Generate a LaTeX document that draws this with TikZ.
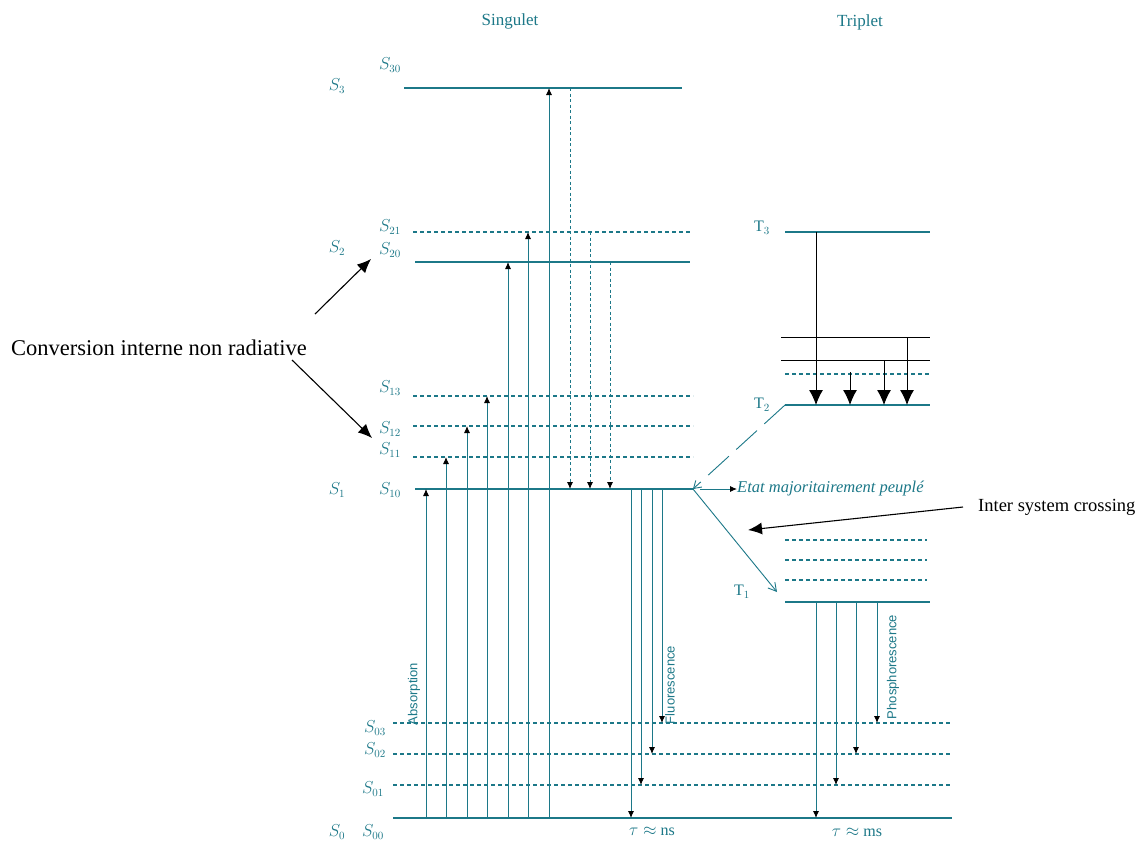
\documentclass[tikz,border=0pt]{standalone}
\usepackage{fontspec}
\setmainfont{Liberation Serif}
\newfontfamily\sansf{Liberation Sans}
\usetikzlibrary{arrows.meta}
\definecolor{tealc}{RGB}{28,120,136}
\begin{document}
\begin{tikzpicture}[x=1pt,y=-1pt,
  lvl/.style={tealc, line width=1.2pt},
  dlvl/.style={tealc, line width=1.2pt, dash pattern=on 4pt off 3pt},
  blvl/.style={black, line width=0.9pt},
  up/.style={tealc, line width=0.9pt, -{Latex[length=7pt,width=6pt,color=black]}},
  dn/.style={tealc, line width=0.9pt, dash pattern=on 3pt off 2.5pt, -{Latex[length=7pt,width=6pt,color=black]}},
  bigarr/.style={black, line width=0.9pt, -{Latex[length=15pt,width=14pt]}},
  callout/.style={black, line width=1.1pt, -{Latex[length=14pt,width=12pt]}},
  slab/.style={tealc, font=\fontsize{16}{16}\selectfont, inner sep=0pt},
  tlab/.style={tealc, font=\fontsize{16}{16}\selectfont, inner sep=0pt},
  rot/.style={tealc, rotate=90, font=\sansf\fontsize{13}{13}\selectfont, inner sep=0pt},
  head/.style={tealc, font=\fontsize{17}{17}\selectfont, inner sep=0pt}]
\useasboundingbox (0,0) rectangle (1145,846);
\fill[white] (0,0) rectangle (1145,846);

% headings
\node[head] (sing) at (510,21) {Singulet};
\node[head] (trip) at (860,22) {Triplet};

% singlet levels
\draw[lvl]  (404,88)  coordinate (s3a) -- (682,88) coordinate (s3b);
\draw[dlvl] (413,232) coordinate (s21a) -- (690,232) coordinate (s21b);
\draw[lvl]  (415,262) coordinate (s20a) -- (690,262) coordinate (s20b);
\draw[dlvl] (413,396) coordinate (s13a) -- (693,396) coordinate (s13b);
\draw[dlvl] (413,426) coordinate (s12a) -- (693,426) coordinate (s12b);
\draw[dlvl] (413,457) coordinate (s11a) -- (693,457) coordinate (s11b);
\draw[lvl]  (415,489) coordinate (s10a) -- (693,489) coordinate (s10b);
\draw[dlvl] (393,723) coordinate (s03a) -- (952,723) coordinate (s03b);
\draw[dlvl] (393,754) coordinate (s02a) -- (952,754) coordinate (s02b);
\draw[dlvl] (393,785) coordinate (s01a) -- (952,785) coordinate (s01b);
\draw[lvl]  (393,818) coordinate (s00a) -- (952,818) coordinate (s00b);

% singlet labels
\node[slab] (lS30) at (390,65) {$S_{30}$};
\node[slab] (lS3)  at (337,86) {$S_{3}$};
\node[slab] (lS21) at (390,227) {$S_{21}$};
\node[slab] (lS20) at (390,250) {$S_{20}$};
\node[slab] (lS2)  at (337,248) {$S_{2}$};
\node[slab] (lS13) at (390,388) {$S_{13}$};
\node[slab] (lS12) at (390,429) {$S_{12}$};
\node[slab] (lS11) at (390,450) {$S_{11}$};
\node[slab] (lS10) at (390,490) {$S_{10}$};
\node[slab] (lS1)  at (337,490) {$S_{1}$};
\node[slab] (lS03) at (375,728) {$S_{03}$};
\node[slab] (lS02) at (375,750) {$S_{02}$};
\node[slab] (lS01) at (373,789) {$S_{01}$};
\node[slab] (lS00) at (373,832) {$S_{00}$};
\node[slab] (lS0)  at (337,832) {$S_{0}$};

% absorption
\foreach \x/\y in {426/489,446/457,467/426,487/396,508/262,528/232,549/88}
  \draw[up] (\x,818) -- (\x,\y);
% internal conversion (dashed, down to S10)
\draw[dn] (570,88) -- (570,489);
\draw[dn] (590,232) -- (590,489);
\draw[dn] (610,262) -- (610,489);
% fluorescence
\foreach \x/\y in {631/818,641/785,652/754,662/723}
  \draw[up] (\x,489) -- (\x,\y);

% triplet levels
\draw[lvl]  (785,232) coordinate (t3a) -- (930,232) coordinate (t3b);
\draw[blvl] (781,337) -- (930,337);
\draw[blvl] (781,360) -- (930,360);
\draw[dlvl] (785,374) -- (930,374);
\draw[lvl]  (785,405) coordinate (t2a) -- (930,405) coordinate (t2b);
\draw[dlvl] (785,540) -- (927,540);
\draw[dlvl] (785,560) -- (927,560);
\draw[dlvl] (785,580) -- (927,580);
\draw[lvl]  (785,602) coordinate (t1a) -- (930,602) coordinate (t1b);

\node[tlab] (lT3) at (762,228) {T$_3$};
\node[tlab] (lT2) at (762,405) {T$_2$};
\node[tlab] (lT1) at (742,592) {T$_1$};

% triplet relaxation
\draw[bigarr] (816,232) -- (816,405);
\draw[bigarr] (850,372) -- (850,405);
\draw[bigarr] (884,360) -- (884,405);
\draw[bigarr] (907,337) -- (907,405);

% phosphorescence
\foreach \x/\y in {816/818,836/785,856/754,877/723}
  \draw[up] (\x,602) -- (\x,\y);

% T2 -> S10 dashed
\draw[tealc, line width=0.9pt, dash pattern=on 28pt off 10pt, -{Straight Barb[length=7pt,width=9pt]}] (t2a) -- (s10b);
% ISC S10 -> T1
\coordinate (iscend) at (777,592);
\draw[tealc, line width=0.9pt, -{Straight Barb[length=8pt,width=9pt]}] (s10b) -- (iscend);
% Etat majoritairement peuplé
\coordinate (etA) at (700,489);
\node[tealc, anchor=west, inner sep=0pt, font=\itshape\fontsize{16.5}{16.5}\selectfont] (etat) at (737,489) {Etat majoritairement peuplé};
\draw[tealc, line width=0.9pt, -{Latex[length=7pt,width=6pt,color=black]}] (etA) -- (etat.west);

% rotated labels
\node[rot] (abs) at (414,694) {Absorption};
\node[rot] (flu) at (670,685) {Fluorescence};
\node[rot] (pho) at (893,667) {Phosphorescence};

% lifetimes
\node[slab] (tns) at (652,831) {$\tau\approx$ ns};
\node[slab] (tms) at (857,832) {$\tau\approx$ ms};

% callouts
\node[black, inner sep=0pt, font=\fontsize{22.5}{22.5}\selectfont] (conv) at (159,348) {Conversion interne non radiative};
\coordinate (c1s) at (315,314);
\coordinate (c1e) at (371,259);
\coordinate (c2s) at (292,360);
\coordinate (c2e) at (372,438);
\draw[callout] (c1s) -- (c1e);
\draw[callout] (c2s) -- (c2e);

\node[black, anchor=west, inner sep=0pt, font=\fontsize{18.5}{18.5}\selectfont] (isc) at (978,507) {Inter system crossing};
\coordinate (iscA) at (748,530);
\draw[callout] (isc.west) ++(-15,0) -- (iscA);
\end{tikzpicture}
\end{document}
